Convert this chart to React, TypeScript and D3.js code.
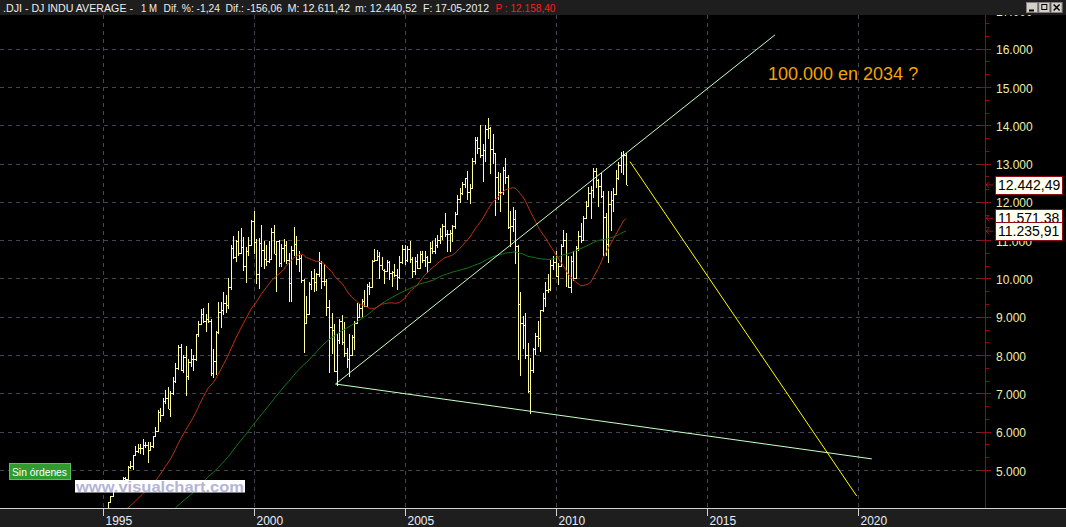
import React from "react";
import * as d3 from "d3";

const W = 1066;
const H = 527;

// Monthly closes before the first drawn bar (Jan 1990 - Dec 1994), only used by the moving averages
const closesPre1995 = [
  2591, 2627, 2707, 2657, 2877, 2881, 2905, 2614, 2453, 2442, 2560, 2634,
  2736, 2882, 2914, 2888, 3028, 2907, 3025, 3044, 3017, 3069, 2895, 3169,
  3224, 3268, 3236, 3359, 3397, 3319, 3394, 3257, 3272, 3226, 3305, 3301,
  3310, 3371, 3435, 3428, 3527, 3516, 3540, 3651, 3555, 3681, 3684, 3754,
  3978, 3832, 3636, 3682, 3758, 3625, 3765, 3913, 3843, 3908, 3739, 3834,
];

// Monthly bars [open, high, low, close] from Jan 1995 to May 2012
const monthlyBars: [number, number, number, number][] = [
  // 1995
  [3834, 3900, 3800, 3844], [3844, 4020, 3830, 4011], [4011, 4170, 3970, 4158], [4158, 4330, 4150, 4321],
  [4321, 4480, 4290, 4465], [4465, 4600, 4430, 4556], [4556, 4730, 4540, 4708], [4708, 4720, 4560, 4611],
  [4611, 4810, 4600, 4789], [4789, 4830, 4700, 4756], [4756, 5110, 4740, 5075], [5075, 5230, 5020, 5117],
  // 1996
  [5117, 5400, 5000, 5395], [5395, 5630, 5370, 5486], [5486, 5690, 5450, 5587], [5587, 5690, 5430, 5569],
  [5569, 5800, 5400, 5643], [5643, 5720, 5580, 5655], [5655, 5730, 5170, 5529], [5529, 5730, 5510, 5616],
  [5616, 5900, 5580, 5882], [5882, 6110, 5850, 6029], [6029, 6570, 6000, 6522], [6522, 6610, 6250, 6448],
  // 1997
  [6448, 6890, 6400, 6813], [6813, 7080, 6720, 6878], [6878, 7160, 6580, 6584], [6584, 7050, 6390, 7009],
  [7009, 7420, 6950, 7331], [7331, 7800, 7260, 7673], [7673, 8260, 7620, 8223], [8223, 8300, 7590, 7622],
  [7622, 8010, 7530, 7945], [7945, 8230, 6940, 7442], [7442, 7900, 7350, 7823], [7823, 8150, 7700, 7908],
  // 1998
  [7908, 7990, 7580, 7907], [7907, 8560, 7850, 8546], [8546, 8900, 8480, 8800], [8800, 9210, 8780, 9063],
  [9063, 9220, 8850, 8900], [8900, 9080, 8600, 8952], [8952, 9370, 8850, 8883], [8883, 8950, 7460, 7539],
  [7539, 8160, 7400, 7843], [7843, 8640, 7470, 8592], [8592, 9380, 8560, 9117], [9117, 9380, 8700, 9181],
  // 1999
  [9181, 9650, 9050, 9359], [9359, 9560, 9100, 9307], [9307, 10010, 9200, 9786], [9786, 10880, 9710, 10789],
  [10789, 11110, 10500, 10560], [10560, 11010, 10430, 10971], [10971, 11250, 10600, 10655], [10655, 11330, 10650, 10829],
  [10829, 11090, 10200, 10337], [10337, 10830, 9880, 10730], [10730, 11090, 10580, 10878], [10878, 11530, 10860, 11497],
  // 2000
  [11497, 11750, 10640, 10941], [10941, 11040, 9860, 10128], [10128, 11050, 9730, 10922], [10922, 11400, 10300, 10734],
  [10734, 10980, 10250, 10522], [10522, 10880, 10330, 10448], [10448, 10980, 10400, 10522], [10522, 11310, 10480, 11215],
  [11215, 11400, 10630, 10651], [10651, 10990, 9650, 10971], [10971, 11000, 10300, 10415], [10415, 10900, 10300, 10787],
  // 2001
  [10787, 11020, 10430, 10887], [10887, 10990, 10390, 10495], [10495, 10660, 9390, 9879], [9879, 10860, 9390, 10735],
  [10735, 11350, 10580, 10912], [10912, 11100, 10360, 10502], [10502, 10720, 10170, 10523], [10523, 10610, 9880, 9950],
  [9950, 10000, 8060, 8848], [8848, 9550, 8800, 9075], [9075, 9900, 9070, 9852], [9852, 10200, 9700, 10022],
  // 2002
  [10022, 10260, 9650, 9920], [9920, 10150, 9680, 10106], [10106, 10680, 10050, 10404], [10404, 10450, 9720, 9946],
  [9946, 10380, 9800, 9925], [9925, 9990, 9030, 9243], [9243, 9430, 7530, 8737], [8737, 9100, 8040, 8664],
  [8664, 8810, 7550, 7592], [7592, 8540, 7200, 8397], [8397, 8950, 8280, 8896], [8896, 9040, 8260, 8342],
  // 2003
  [8342, 8870, 7950, 8054], [8054, 8190, 7670, 7891], [7891, 8550, 7420, 7992], [7992, 8520, 7990, 8480],
  [8480, 8900, 8130, 8850], [8850, 9350, 8800, 8985], [8985, 9340, 8980, 9234], [9234, 9460, 9000, 9416],
  [9416, 9690, 9250, 9275], [9275, 9850, 9270, 9801], [9801, 9900, 9570, 9782], [9782, 10480, 9780, 10454],
  // 2004
  [10454, 10760, 10420, 10488], [10488, 10750, 10460, 10584], [10584, 10700, 10000, 10358], [10358, 10570, 10220, 10226],
  [10226, 10260, 9850, 10188], [10188, 10480, 10180, 10435], [10435, 10450, 9960, 10140], [10140, 10200, 9780, 10174],
  [10174, 10380, 10050, 10080], [10080, 10240, 9710, 10027], [10027, 10600, 10000, 10428], [10428, 10870, 10380, 10783],
  // 2005
  [10783, 10880, 10360, 10490], [10490, 10850, 10430, 10766], [10766, 10980, 10400, 10504], [10504, 10550, 10010, 10193],
  [10193, 10550, 10080, 10467], [10467, 10650, 10250, 10275], [10275, 10720, 10250, 10641], [10641, 10720, 10400, 10482],
  [10482, 10720, 10300, 10569], [10569, 10600, 10150, 10440], [10440, 10940, 10400, 10806], [10806, 10990, 10650, 10718],
  // 2006
  [10718, 11050, 10650, 10865], [10865, 11140, 10800, 10993], [10993, 11330, 10900, 11109], [11109, 11420, 11000, 11367],
  [11367, 11710, 11080, 11168], [11168, 11260, 10700, 11150], [11150, 11260, 10680, 11186], [11186, 11400, 10960, 11381],
  [11381, 11730, 11280, 11679], [11679, 12170, 11650, 12081], [12081, 12360, 11980, 12222], [12222, 12530, 12170, 12463],
  // 2007
  [12463, 12630, 12350, 12622], [12622, 12800, 12050, 12269], [12269, 12470, 11940, 12354], [12354, 13140, 12350, 13063],
  [13063, 13690, 13000, 13628], [13628, 13690, 13250, 13409], [13409, 14020, 13150, 13212], [13212, 13500, 12520, 13358],
  [13358, 14000, 13030, 13896], [13896, 14200, 13630, 13930], [13930, 13950, 12720, 13372], [13372, 13780, 13000, 13265],
  // 2008
  [13265, 13280, 11630, 12650], [12650, 12770, 12060, 12266], [12266, 12760, 11730, 12263], [12263, 12900, 12180, 12820],
  [12820, 13140, 12470, 12638], [12638, 12700, 11290, 11350], [11350, 11750, 10830, 11378], [11378, 11870, 11210, 11544],
  [11544, 11790, 10370, 10851], [10851, 10880, 7880, 9325], [9325, 9650, 7450, 8829], [8829, 9030, 8150, 8776],
  // 2009
  [8776, 9090, 7910, 8001], [8001, 8320, 7000, 7063], [7063, 7930, 6470, 7609], [7609, 8190, 7530, 8168],
  [8168, 8580, 8010, 8500], [8500, 8880, 8220, 8447], [8447, 9190, 8090, 9172], [9172, 9630, 9120, 9496],
  [9496, 9920, 9250, 9712], [9712, 10120, 9620, 9713], [9713, 10480, 9680, 10345], [10345, 10580, 10230, 10428],
  // 2010
  [10428, 10730, 10030, 10067], [10067, 10410, 9840, 10325], [10325, 10900, 10320, 10857], [10857, 11260, 10860, 11009],
  [11009, 11200, 9770, 10137], [10137, 10600, 9750, 9774], [9774, 10590, 9610, 10466], [10466, 10720, 9940, 10015],
  [10015, 10860, 9990, 10788], [10788, 11250, 10710, 11118], [11118, 11450, 10930, 11006], [11006, 11630, 10990, 11578],
  // 2011
  [11578, 12020, 11570, 11892], [11892, 12400, 11890, 12226], [12226, 12420, 11560, 12320], [12320, 12880, 12090, 12811],
  [12811, 12880, 12350, 12570], [12570, 12590, 11860, 12414], [12414, 12750, 12090, 12143], [12143, 12290, 10600, 11614],
  [11614, 11720, 10600, 10913], [10913, 12290, 10400, 11955], [11955, 12290, 11230, 12046], [12046, 12360, 11730, 12218],
  // 2012
  [12218, 12840, 12200, 12633], [12633, 13030, 12560, 12952], [12952, 13290, 12750, 13212], [13212, 13340, 12710, 13214],
  [13214, 13280, 12430, 12442.49],
];

const firstYear = 1995;
const yearTicks = [1995, 2000, 2005, 2010, 2015, 2020];
const priceTicks = [5000, 6000, 7000, 8000, 9000, 10000, 11000, 12000, 13000, 14000, 15000, 16000, 17000];
const maPeriods = { red: 30, green: 90 };

// Hand drawn lines: [month index since Jan 1995, price]
const upperTrend: [number, number][] = [[92.6, 7245], [267.2, 16360]];
const lowerTrend: [number, number][] = [[92.6, 7245], [305.7, 5290]];
const yellowTrend: [number, number][] = [[209.6, 13050], [299.7, 4320]];

// Last values shown on the price axis
const lastValues = [
  { value: 12442.49, key: "price" },
  { value: 11571.38, key: "red" },
  { value: 11235.91, key: "green" },
];

const headerItems = [
  { text: ".DJI - DJ INDU AVERAGE -", x: 3, w: 130, color: "#ececec" },
  { text: "1 M", x: 141, w: 16, color: "#ececec" },
  { text: "Dif. %: -1,24", x: 163.5, w: 56.5, color: "#ececec" },
  { text: "Dif.: -156,06", x: 225.5, w: 56.5, color: "#ececec" },
  { text: "M: 12.611,42", x: 287.5, w: 62.5, color: "#ececec" },
  { text: "m: 12.440,52", x: 355, w: 62, color: "#ececec" },
  { text: "F: 17-05-2012", x: 423, w: 66, color: "#ececec" },
  { text: "P : 12.158,40", x: 495.5, w: 60, color: "#ff1a1a" },
];

const annotation = "100.000 en 2034 ?";

const esLocale = d3.formatLocale({ decimal: ",", thousands: ".", grouping: [3], currency: ["", " €"] });
const fmtTick = esLocale.format(",.0f");
const fmtVal = esLocale.format(",.2f");

const PLOT_LEFT = 0;
const PLOT_RIGHT = 985;
const PLOT_TOP = 15;
const PLOT_BOTTOM = 508;

export default function App() {
  const x = d3.scaleLinear().domain([0, 60]).range([102.5, 253.5]);
  const y = d3.scaleLinear().domain([5000, 16000]).range([470, 48.7]);

  const allCloses = [...closesPre1995, ...monthlyBars.map((b) => b[3])];
  const offset = closesPre1995.length;
  const sma = (n: number) =>
    allCloses
      .map((_, k) => (k >= n - 1 ? { i: k - offset, v: d3.mean(allCloses.slice(k - n + 1, k + 1)) as number } : null))
      .filter((d): d is { i: number; v: number } => d !== null);

  const maLine = d3
    .line<{ i: number; v: number }>()
    .x((d) => x(d.i))
    .y((d) => y(d.v));
  const trendLine = d3
    .line<[number, number]>()
    .x((d) => x(d[0]))
    .y((d) => y(d[1]));

  const barsPath = monthlyBars
    .map(([o, h, l, c], i) => {
      const px = Math.round(x(i));
      const yo = Math.round(y(o)) + 0.5;
      const yc = Math.round(y(c)) + 0.5;
      return `M${px + 0.5},${y(h)}V${y(l)}M${px - 1},${yo}H${px + 0.5}M${px + 0.5},${yc}H${px + 2}`;
    })
    .join("");

  const yearIdx = (yr: number) => (yr - firstYear) * 12;
  const minorTicks = priceTicks.flatMap((v) => [v + 1000 / 3, v + 2000 / 3]);

  const font = "'Liberation Sans', Arial, sans-serif";

  return (
    <svg
      width={W}
      height={H}
      viewBox={`0 0 ${W} ${H}`}
      style={{ position: "fixed", left: 0, top: 0, display: "block", background: "#000" }}
      fontFamily={font}
    >
      <defs>
        <clipPath id="plotClip">
          <rect x={PLOT_LEFT} y={PLOT_TOP} width={PLOT_RIGHT - PLOT_LEFT} height={PLOT_BOTTOM - PLOT_TOP} />
        </clipPath>
      </defs>
      <rect x={0} y={0} width={W} height={H} fill="#000" />

      {/* grid */}
      <g stroke="#45454f" strokeWidth={1} strokeDasharray="4,4" shapeRendering="crispEdges">
        {priceTicks.map((v) => (
          <line key={"h" + v} x1={PLOT_LEFT} x2={PLOT_RIGHT} y1={Math.round(y(v)) + 0.5} y2={Math.round(y(v)) + 0.5} />
        ))}
        {yearTicks.map((yr) => (
          <line
            key={"v" + yr}
            x1={Math.round(x(yearIdx(yr))) + 0.5}
            x2={Math.round(x(yearIdx(yr))) + 0.5}
            y1={PLOT_TOP}
            y2={PLOT_BOTTOM}
          />
        ))}
      </g>

      <g clipPath="url(#plotClip)">
        <path d={barsPath} stroke="#ffffa0" strokeWidth={1} fill="none" shapeRendering="crispEdges" />
        <path d={maLine(sma(maPeriods.green)) || ""} stroke="#127a14" strokeWidth={1} fill="none" />
        <path d={maLine(sma(maPeriods.red)) || ""} stroke="#c0300c" strokeWidth={1} fill="none" />
        <path d={trendLine(upperTrend) || ""} stroke="#c8ffc8" strokeWidth={1} fill="none" />
        <path d={trendLine(lowerTrend) || ""} stroke="#c8ffc8" strokeWidth={1} fill="none" />
        <path d={trendLine(yellowTrend) || ""} stroke="#ffff00" strokeWidth={1} fill="none" />
      </g>

      <text x={768} y={80} fill="#f5a300" fontSize={18}>
        {annotation}
      </text>

      {/* Sin órdenes */}
      <rect x={9.5} y={463.5} width={61} height={16} fill="#2f9b2f" stroke="#5cc05c" />
      <text x={12} y={475.5} fill="#ffffff" fontSize={10.5} textLength={55} lengthAdjust="spacingAndGlyphs">
        Sin órdenes
      </text>

      {/* watermark */}
      <rect x={75} y={480} width={170} height={12.5} fill="#ffffff" />
      <text x={76} y={491.5} fill="#b4b4d6" fontSize={15.5} fontWeight="bold" textLength={168} lengthAdjust="spacingAndGlyphs">
        www.visualchart.com
      </text>

      {/* right axis */}
      <rect x={PLOT_RIGHT + 0.5} y={PLOT_TOP} width={W - PLOT_RIGHT} height={PLOT_BOTTOM - PLOT_TOP} fill="#000" />
      <line x1={985.5} x2={985.5} y1={PLOT_TOP} y2={PLOT_BOTTOM} stroke="#8e0c18" strokeWidth={1} shapeRendering="crispEdges" />
      <g stroke="#8e0c18" strokeWidth={1} shapeRendering="crispEdges">
        {priceTicks.map((v) => (
          <line key={"mt" + v} x1={980} x2={991} y1={Math.round(y(v)) + 0.5} y2={Math.round(y(v)) + 0.5} />
        ))}
        {minorTicks.map((v) =>
          y(v) > PLOT_TOP && y(v) < PLOT_BOTTOM ? (
            <line key={"mn" + v} x1={985} x2={989} y1={Math.round(y(v)) + 0.5} y2={Math.round(y(v)) + 0.5} />
          ) : null
        )}
      </g>
      <g fill="#eeeeaa" fontSize={12}>
        {priceTicks.map((v) => (
          <text key={"tl" + v} x={996} y={y(v) + 5.5}>
            {fmtTick(v)}
          </text>
        ))}
      </g>
      {lastValues.map((d) => {
        const cy = y(d.value);
        return (
          <g key={d.key}>
            <path
              d={`M993,${cy}H986M989.5,${cy - 3}L986,${cy}L989.5,${cy + 3}`}
              stroke="#a01020"
              strokeWidth={1}
              fill="none"
            />
            <rect x={995.5} y={Math.round(cy - 9) + 0.5} width={67} height={18} fill="#fffff0" stroke="#8e0c18" />
            <text x={998} y={cy + 5} fill="#000" fontSize={14}>
              {fmtVal(d.value)}
            </text>
          </g>
        );
      })}

      {/* bottom axis */}
      <rect x={0} y={PLOT_BOTTOM} width={W} height={H - PLOT_BOTTOM} fill="#1e1e1e" />
      <line x1={0} x2={W} y1={PLOT_BOTTOM + 0.5} y2={PLOT_BOTTOM + 0.5} stroke="#d2d2d2" shapeRendering="crispEdges" />
      {yearTicks.map((yr) => {
        const px = Math.round(x(yearIdx(yr))) + 0.5;
        return (
          <g key={"yt" + yr}>
            <line x1={px} x2={px} y1={PLOT_BOTTOM} y2={PLOT_BOTTOM + 8} stroke="#d2d2d2" shapeRendering="crispEdges" />
            <text x={px + 2} y={525} fill="#e8eeff" fontSize={12}>
              {yr}
            </text>
          </g>
        );
      })}

      {/* header */}
      <rect x={0} y={0} width={W} height={PLOT_TOP} fill="#1e1e1e" />
      {headerItems.map((h) => (
        <text
          key={h.text}
          x={h.x}
          y={12}
          fill={h.color}
          fontSize={10.5}
          textLength={h.w}
          lengthAdjust="spacingAndGlyphs"
        >
          {h.text}
        </text>
      ))}
      {/* window buttons */}
      {["min", "max", "close"].map((b, k) => {
        const bx = 1026 + k * 12.3;
        return (
          <g key={b}>
            <rect x={bx + 0.5} y={2.5} width={11} height={10} fill="#d4d0c8" stroke="#808080" />
            {b === "min" && <line x1={bx + 3} x2={bx + 8} y1={10.5} y2={10.5} stroke="#000" strokeWidth={2} />}
            {b === "max" && <rect x={bx + 3.5} y={4.5} width={5} height={5} fill="none" stroke="#000" />}
            {b === "close" && (
              <path d={`M${bx + 3},${4.5}L${bx + 9},${10.5}M${bx + 9},${4.5}L${bx + 3},${10.5}`} stroke="#000" strokeWidth={1.5} />
            )}
          </g>
        );
      })}
    </svg>
  );
}
